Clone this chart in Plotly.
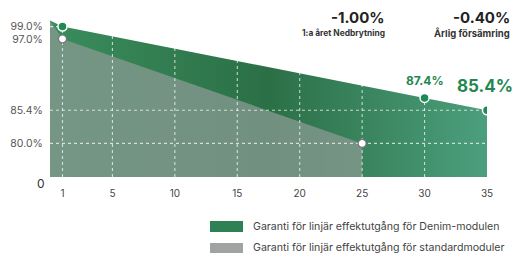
import plotly.graph_objects as go

# ---- data ----
denim_years = [0, 1, 30, 35]
denim_values = [100.0, 99.0, 87.4, 85.4]
std_years = [0, 1, 25]
std_values = [100.0, 97.0, 80.0]

denim_marker_years = [1, 30, 35]
denim_marker_values = [99.0, 87.4, 85.4]
std_marker_years = [1, 25]
std_marker_values = [97.0, 80.0]

x_ticks = [1, 5, 10, 15, 20, 25, 30, 35]
y_ticks = [80.0, 85.4, 97.0, 99.0]
y_tick_text = ["80.0%", "85.4%", "97.0%", "99.0%"]

first_year_loss = "-1.00%"
first_year_label = "1:a året Nedbrytning"
annual_loss = "-0.40%"
annual_label = "Årlig försämring"

legend_denim = "Garanti för linjär effektutgång för Denim-modulen"
legend_std = "Garanti för linjär effektutgång för standardmoduler"

# ---- layout geometry ----
W, H = 517, 256
ML, MR, MT, MB = 50, 30, 10, 79
PW, PH = W - ML - MR, H - MT - MB
Y_MIN, Y_MAX = 74.53, 101.7
X_MAX = 35

def px(xp):
    return (xp - ML) / PW

def py(yp):
    return 1 - (yp - MT) / PH

FONT = "Inter"
GREEN_TXT = "#23874f"

fig = go.Figure()

# Denim area (gradient)
fig.add_trace(go.Scatter(
    x=denim_years, y=denim_values, mode="lines", line=dict(width=0),
    fill="tozeroy",
    fillgradient=dict(type="horizontal",
                      colorscale=[[0, "#3a8d5d"], [0.5, "#2b6f46"], [1, "#4c9f7d"]]),
    showlegend=False, hoverinfo="skip"))

# Standard area
fig.add_trace(go.Scatter(
    x=std_years, y=std_values, mode="lines", line=dict(width=0),
    fill="tozeroy", fillcolor="rgba(132,152,142,0.8)",
    showlegend=False, hoverinfo="skip"))

# dotted white grid lines over the fills
gx, gy = [], []
for t in x_ticks[:-1]:
    gx += [t, t, None]
    gy += [Y_MIN, Y_MAX, None]
for v in [80.0, 85.4, 99.0]:
    gx += [0, X_MAX, None]
    gy += [v, v, None]
fig.add_trace(go.Scatter(
    x=gx, y=gy, mode="lines",
    line=dict(color="rgba(255,255,255,0.7)", width=1.1, dash="dot"),
    showlegend=False, hoverinfo="skip"))

# markers
fig.add_trace(go.Scatter(
    x=std_marker_years, y=std_marker_values, mode="markers",
    marker=dict(size=8, color="white", line=dict(color="#6f7773", width=1.2)),
    showlegend=False, hoverinfo="skip"))
fig.add_trace(go.Scatter(
    x=denim_marker_years, y=denim_marker_values, mode="markers",
    marker=dict(size=9, color="#1f8a55", line=dict(color="white", width=1.5)),
    showlegend=False, hoverinfo="skip"))

ann = []
# value labels
ann.append(dict(x=30, y=87.4, xref="x", yref="y", text="<b>87.4%</b>",
                showarrow=False, yshift=17,
                font=dict(family=FONT, size=12, color=GREEN_TXT)))
ann.append(dict(x=35, y=85.4, xref="x", yref="y", text="<b>85.4%</b>",
                showarrow=False, yshift=24, xshift=-2,
                font=dict(family=FONT, size=17, color=GREEN_TXT)))
# "0" base label
ann.append(dict(x=px(47), y=py(183), xref="paper", yref="paper", text="0",
                showarrow=False, xanchor="right", yanchor="middle",
                font=dict(family=FONT, size=12, color="#333")))
# headline stats
ann.append(dict(x=px(387), y=py(17), xref="paper", yref="paper",
                text="<b>" + first_year_loss + "</b>", showarrow=False,
                xanchor="right", yanchor="middle",
                font=dict(family=FONT, size=15, color="#222")))
ann.append(dict(x=px(387), y=py(33), xref="paper", yref="paper",
                text="<b>" + first_year_label + "</b>", showarrow=False,
                xanchor="right", yanchor="middle",
                font=dict(family=FONT, size=8.4, color="#333")))
ann.append(dict(x=px(512), y=py(17), xref="paper", yref="paper",
                text="<b>" + annual_loss + "</b>", showarrow=False,
                xanchor="right", yanchor="middle",
                font=dict(family=FONT, size=15, color="#222")))
ann.append(dict(x=px(512), y=py(33), xref="paper", yref="paper",
                text="<b>" + annual_label + "</b>", showarrow=False,
                xanchor="right", yanchor="middle",
                font=dict(family=FONT, size=9.5, color="#333")))
# legend
ann.append(dict(x=px(251), y=py(226.5), xref="paper", yref="paper",
                text=legend_denim, showarrow=False,
                xanchor="left", yanchor="middle",
                font=dict(family=FONT, size=10.6, color="#444")))
ann.append(dict(x=px(251), y=py(248), xref="paper", yref="paper",
                text=legend_std, showarrow=False,
                xanchor="left", yanchor="middle",
                font=dict(family=FONT, size=10.6, color="#444")))

shapes = [
    dict(type="rect", xref="paper", yref="paper",
         x0=px(210), x1=px(243), y0=py(232), y1=py(221),
         fillcolor="#2f8054", line=dict(width=0), layer="above"),
    dict(type="rect", xref="paper", yref="paper",
         x0=px(210), x1=px(243), y0=py(253), y1=py(243),
         fillcolor="#a0a3a2", line=dict(width=0), layer="above"),
]

fig.update_layout(
    width=W, height=H,
    margin=dict(l=ML, r=MR, t=MT, b=MB),
    paper_bgcolor="white", plot_bgcolor="white",
    showlegend=False,
    annotations=ann, shapes=shapes,
    xaxis=dict(range=[0, X_MAX], tickvals=x_ticks, showgrid=False,
               zeroline=False, showline=False,
               ticks="outside", ticklen=7, tickcolor="rgba(0,0,0,0)",
               tickfont=dict(family=FONT, size=10, color="#444")),
    yaxis=dict(range=[Y_MIN, Y_MAX], tickvals=y_ticks, ticktext=y_tick_text,
               showgrid=False, zeroline=False, showline=False,
               ticks="outside", ticklen=4, tickcolor="rgba(0,0,0,0)",
               tickfont=dict(family=FONT, size=10.5, color="#555")),
)

fig.write_html("out.html",
               config={"displayModeBar": False, "staticPlot": True},
               post_script="document.body.style.margin='0';document.body.style.overflow='hidden';")
